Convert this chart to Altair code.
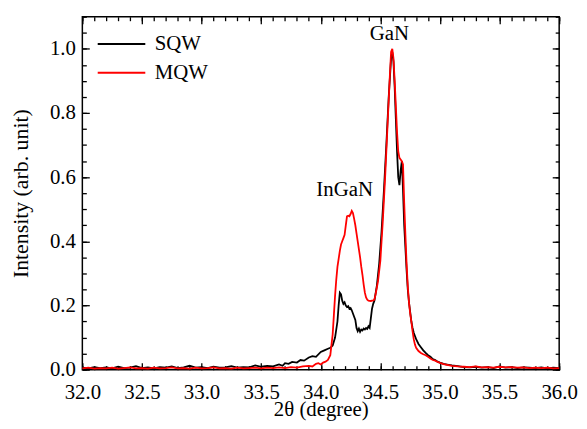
import altair as alt
import pandas as pd

FONT = "Liberation Serif"

series_names = ["SQW", "MQW"]
series_colors = ["#000000", "#ff0000"]

sqw_x = [32.00, 32.05, 32.10, 32.15, 32.20, 32.25, 32.30, 32.35, 32.40, 32.45,
         32.50, 32.55, 32.60, 32.65, 32.70, 32.75, 32.80, 32.85, 32.90, 32.95,
         33.00, 33.05, 33.10, 33.15, 33.20, 33.25, 33.30, 33.35, 33.40, 33.45,
         33.50, 33.55, 33.60, 33.65, 33.68, 33.70, 33.73, 33.76, 33.80, 33.83,
         33.86, 33.90, 33.93, 33.96, 34.00, 34.03, 34.06, 34.08, 34.10, 34.12,
         34.14, 34.15, 34.16, 34.17, 34.18, 34.19, 34.20, 34.21, 34.22, 34.23,
         34.24, 34.25, 34.26, 34.27, 34.28, 34.29, 34.30, 34.31, 34.32, 34.33,
         34.34, 34.35, 34.36, 34.37, 34.38, 34.39, 34.40, 34.41, 34.42, 34.43,
         34.44, 34.45, 34.47, 34.49, 34.51, 34.53, 34.55, 34.57, 34.59, 34.60,
         34.61, 34.62, 34.63, 34.64, 34.65, 34.66, 34.67, 34.68, 34.69, 34.70,
         34.71, 34.72, 34.73, 34.74, 34.75, 34.76, 34.77, 34.78, 34.79, 34.80,
         34.82, 34.84, 34.86, 34.88, 34.90, 34.92, 34.94, 34.96, 34.98, 35.00,
         35.03, 35.06, 35.10, 35.15, 35.20, 35.25, 35.30, 35.35, 35.40, 35.45,
         35.50, 35.55, 35.60, 35.65, 35.70, 35.75, 35.80, 35.85, 35.90, 35.95,
         36.00]
sqw_y = [0.006, 0.004, 0.008, 0.005, 0.007, 0.004, 0.009, 0.005, 0.006, 0.011,
         0.005, 0.007, 0.004, 0.008, 0.006, 0.010, 0.005, 0.007, 0.012, 0.006,
         0.008, 0.005, 0.009, 0.006, 0.007, 0.011, 0.006, 0.008, 0.007, 0.013,
         0.009, 0.012, 0.010, 0.016, 0.012, 0.020, 0.018, 0.024, 0.022, 0.030,
         0.028, 0.038, 0.042, 0.040, 0.055, 0.060, 0.065, 0.068, 0.075, 0.100,
         0.150, 0.200, 0.240, 0.235, 0.215, 0.205, 0.210, 0.200, 0.195, 0.198,
         0.190, 0.192, 0.185, 0.175, 0.165, 0.155, 0.130, 0.120, 0.128, 0.118,
         0.125, 0.122, 0.128, 0.125, 0.130, 0.127, 0.135, 0.130, 0.160, 0.190,
         0.205, 0.215, 0.260, 0.330, 0.430, 0.560, 0.700, 0.850, 0.970, 0.990,
         0.960, 0.880, 0.780, 0.680, 0.600, 0.575, 0.620, 0.650, 0.560, 0.450,
         0.380, 0.310, 0.250, 0.210, 0.180, 0.150, 0.130, 0.115, 0.105, 0.095,
         0.080, 0.070, 0.060, 0.052, 0.045, 0.040, 0.033, 0.030, 0.025, 0.022,
         0.018, 0.016, 0.013, 0.011, 0.008, 0.007, 0.009, 0.006, 0.008, 0.005,
         0.010, 0.006, 0.008, 0.005, 0.007, 0.006, 0.005, 0.007, 0.004, 0.006,
         0.005]

mqw_x = [32.00, 32.05, 32.10, 32.15, 32.20, 32.25, 32.30, 32.35, 32.40, 32.45,
         32.50, 32.55, 32.60, 32.65, 32.70, 32.75, 32.80, 32.85, 32.90, 32.95,
         33.00, 33.05, 33.10, 33.15, 33.20, 33.25, 33.30, 33.35, 33.40, 33.45,
         33.50, 33.55, 33.60, 33.65, 33.70, 33.75, 33.80, 33.85, 33.90, 33.93,
         33.96, 33.98, 34.00, 34.02, 34.04, 34.06, 34.08, 34.10, 34.11, 34.12,
         34.13, 34.14, 34.15, 34.16, 34.17, 34.18, 34.19, 34.20, 34.21, 34.22,
         34.23, 34.24, 34.25, 34.26, 34.27, 34.28, 34.29, 34.30, 34.31, 34.32,
         34.33, 34.34, 34.35, 34.36, 34.37, 34.38, 34.39, 34.40, 34.42, 34.44,
         34.45, 34.46, 34.48, 34.50, 34.52, 34.54, 34.56, 34.58, 34.59, 34.60,
         34.61, 34.62, 34.63, 34.64, 34.65, 34.66, 34.67, 34.68, 34.69, 34.70,
         34.71, 34.72, 34.73, 34.74, 34.75, 34.76, 34.77, 34.78, 34.79, 34.80,
         34.82, 34.84, 34.86, 34.88, 34.90, 34.92, 34.94, 34.96, 34.98, 35.00,
         35.03, 35.06, 35.10, 35.15, 35.20, 35.25, 35.30, 35.35, 35.40, 35.45,
         35.50, 35.55, 35.60, 35.65, 35.70, 35.75, 35.80, 35.85, 35.90, 35.95,
         36.00]
mqw_y = [0.004, 0.006, 0.003, 0.005, 0.004, 0.006, 0.003, 0.005, 0.007, 0.004,
         0.005, 0.003, 0.006, 0.004, 0.005, 0.007, 0.004, 0.005, 0.003, 0.006,
         0.004, 0.005, 0.007, 0.004, 0.005, 0.003, 0.006, 0.004, 0.005, 0.006,
         0.004, 0.006, 0.005, 0.007, 0.005, 0.008, 0.006, 0.010, 0.012, 0.010,
         0.018, 0.020, 0.016, 0.022, 0.025, 0.030, 0.045, 0.110, 0.170, 0.230,
         0.280, 0.320, 0.345, 0.370, 0.390, 0.400, 0.410, 0.420, 0.450, 0.478,
         0.480, 0.478, 0.485, 0.495, 0.488, 0.470, 0.450, 0.425, 0.400, 0.375,
         0.350, 0.320, 0.295, 0.265, 0.240, 0.225, 0.218, 0.215, 0.214, 0.216,
         0.218, 0.235, 0.275, 0.340, 0.460, 0.600, 0.760, 0.920, 0.990, 1.000,
         0.970, 0.900, 0.820, 0.740, 0.680, 0.660, 0.655, 0.650, 0.640, 0.520,
         0.420, 0.330, 0.260, 0.210, 0.175, 0.150, 0.120, 0.095, 0.078, 0.068,
         0.058, 0.052, 0.048, 0.045, 0.040, 0.035, 0.030, 0.028, 0.024, 0.021,
         0.017, 0.015, 0.012, 0.010, 0.009, 0.008, 0.010, 0.007, 0.008, 0.006,
         0.009, 0.007, 0.008, 0.006, 0.007, 0.005, 0.006, 0.005, 0.006, 0.004,
         0.005]

anno_labels = ["GaN", "InGaN"]
anno_x = [34.575, 34.20]
anno_y = [1.045, 0.56]

x_major = [32.0, 32.5, 33.0, 33.5, 34.0, 34.5, 35.0, 35.5, 36.0]
x_minor = [round(32.0 + 0.1 * i, 1) for i in range(41)]
y_major = [0.0, 0.2, 0.4, 0.6, 0.8, 1.0]
y_minor = [round(0.05 * i, 2) for i in range(23)]

df_sqw = pd.DataFrame({"x": sqw_x, "y": sqw_y, "series": "SQW"})
df_mqw = pd.DataFrame({"x": mqw_x, "y": mqw_y, "series": "MQW"})
df_anno = pd.DataFrame({"label": anno_labels, "x": anno_x, "y": anno_y})
df_anchor = pd.DataFrame({"x": [32.0], "y": [0.0]})

xs = alt.Scale(domain=[32, 36], nice=False, zero=False)
ys = alt.Scale(domain=[0, 1.1], nice=False, zero=False)

color = alt.Color(
    "series:N",
    scale=alt.Scale(domain=series_names, range=series_colors),
    legend=alt.Legend(
        orient="none", legendX=29, legendY=17, title=None,
        symbolType="M-3,0H3", symbolSize=256, symbolStrokeWidth=2,
        symbolFillColor="transparent",
        labelFont=FONT, labelFontSize=21, labelColor="black",
        labelOffset=23, padding=0, rowPadding=7,
    ),
)

x_main = alt.X("x:Q", scale=xs, axis=alt.Axis(
    orient="bottom", values=x_major, format=".1f", ticks=False, domain=False,
    grid=False, labelPadding=12, labelFlush=False,
    title="2θ (degree)", titleBaseline="alphabetic", titleY=46,
    labelFont=FONT, labelFontSize=21, labelColor="black",
    titleFont=FONT, titleFontSize=21, titleFontWeight="normal",
    titleColor="black"))
y_main = alt.Y("y:Q", scale=ys, axis=alt.Axis(
    orient="left", values=y_major, format=".1f", ticks=False, domain=False,
    grid=False, labelPadding=7, labelFlush=False,
    title="Intensity (arb. unit)", titlePadding=17,
    labelFont=FONT, labelFontSize=21, labelColor="black",
    titleFont=FONT, titleFontSize=22, titleFontWeight="normal",
    titleColor="black"))

line_sqw = alt.Chart(df_sqw).mark_line(strokeWidth=1.8).encode(
    x=x_main, y=y_main, color=color)
line_mqw = alt.Chart(df_mqw).mark_line(strokeWidth=1.8).encode(
    x=alt.X("x:Q", scale=xs, axis=None),
    y=alt.Y("y:Q", scale=ys, axis=None), color=color)

text = alt.Chart(df_anno).mark_text(
    font=FONT, fontSize=21, color="black", baseline="middle", align="center"
).encode(
    x=alt.X("x:Q", scale=xs, axis=None),
    y=alt.Y("y:Q", scale=ys, axis=None), text="label:N")


def tick_layer(xo, yo, xv, yv, size):
    return alt.Chart(df_anchor).mark_point(opacity=0).encode(
        x=alt.X("x:Q", scale=xs, axis=alt.Axis(
            orient=xo, values=xv, labels=False, domain=False, grid=False,
            ticks=True, tickSize=size, tickColor="black", tickWidth=1.3,
            offset=-size, title="")),
        y=alt.Y("y:Q", scale=ys, axis=alt.Axis(
            orient=yo, values=yv, labels=False, domain=False, grid=False,
            ticks=True, tickSize=size, tickColor="black", tickWidth=1.3,
            offset=-size, title="")),
    )


layers = [
    tick_layer("bottom", "left", x_major, y_major, 7),
    tick_layer("bottom", "left", x_minor, y_minor, 4),
    tick_layer("top", "right", x_major, y_major, 7),
    tick_layer("top", "right", x_minor, y_minor, 4),
    line_sqw, line_mqw, text,
]

chart = alt.layer(*layers).resolve_axis(
    x="independent", y="independent"
).properties(
    width=481, height=356,
    autosize=alt.AutoSizeParams(type="none"),
    padding={"left": 75, "top": 7, "right": 20, "bottom": 50},
    background="white",
).configure_view(
    stroke="black", strokeWidth=1.5
).configure_axis(
    labelFont=FONT, labelFontSize=21, labelColor="black",
    titleFont=FONT, titleFontSize=22, titleFontWeight="normal",
    titleColor="black",
).configure_legend(
    labelFont=FONT, labelFontSize=21, labelColor="black",
)

chart.save("out.html", embed_options={"renderer": "svg", "actions": False})
